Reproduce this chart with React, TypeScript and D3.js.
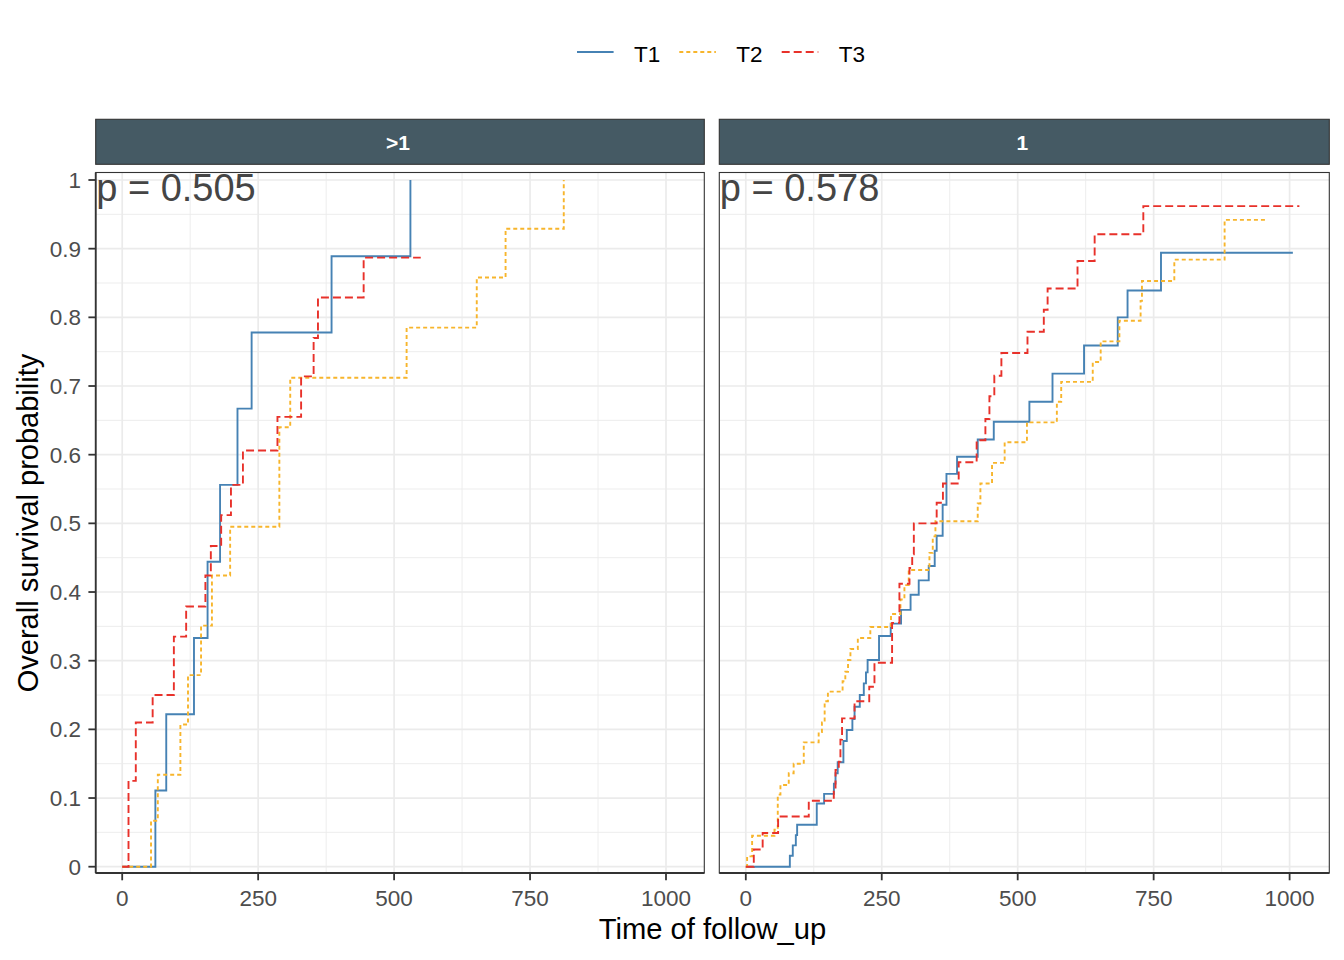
import React, { useEffect, useRef } from 'react'
import * as d3 from 'd3'

// groups
const groups = ['T1', 'T2', 'T3']
const groupColors = ['#4682B4', '#F7B52C', '#E8312A']
const groupDash = [null, '4,3', '8,4']

// facets
const facets = ['>1', '1']
const pValues = ['p = 0.505', 'p = 0.578']

// facet ">1"
const gtT1Time = [61, 81, 132, 157, 180, 212, 238, 385, 530]
const gtT1Prob = [0.111, 0.222, 0.333, 0.444, 0.556, 0.667, 0.778, 0.889, 1.0]
const gtT1End = 530

const gtT2Time = [53, 65.5, 107, 121, 145, 165, 198.5, 289, 309, 523, 652, 705, 812]
const gtT2Prob = [0.067, 0.134, 0.207, 0.279, 0.351, 0.424, 0.495, 0.64, 0.712, 0.785, 0.858, 0.929, 1.0]
const gtT2End = 812

const gtT3Time = [11.6, 25, 56, 95, 117.6, 153, 163, 182, 200, 222, 285.5, 329, 352, 360, 444]
const gtT3Prob = [0.125, 0.21, 0.25, 0.335, 0.379, 0.424, 0.467, 0.512, 0.556, 0.606, 0.655, 0.714, 0.77, 0.829, 0.887]
const gtT3End = 549

// facet "1"
const oneT1Time = [81, 86.4, 92, 94.4, 130.5, 144, 162, 165, 169, 179.5, 185.7, 196, 200, 209.6, 217, 221, 224, 245, 266.5, 285.5, 303, 318, 336.4, 347.4, 351, 362, 369, 388.5, 426.5, 456, 521.5, 564, 622, 684, 702, 763.5]
const oneT1Prob = [0.016, 0.031, 0.046, 0.061, 0.092, 0.106, 0.121, 0.136, 0.152, 0.183, 0.199, 0.215, 0.233, 0.25, 0.267, 0.283, 0.301, 0.336, 0.354, 0.374, 0.396, 0.417, 0.438, 0.46, 0.482, 0.527, 0.572, 0.597, 0.622, 0.648, 0.677, 0.718, 0.759, 0.8, 0.839, 0.894]
const oneT1End = 1006

const oneT2Time = [2.4, 11.6, 52.7, 58.8, 63.7, 79, 88, 106.6, 134, 140, 145, 151, 178, 183, 188, 192.4, 206, 229, 267, 284.4, 291.7, 299.6, 337.7, 343.8, 348.7, 426.5, 431.4, 452.8, 476, 517, 572, 580, 638, 652.6, 687, 726, 728.5, 788, 880.5]
const oneT2Prob = [0.015, 0.045, 0.054, 0.105, 0.119, 0.136, 0.15, 0.181, 0.196, 0.21, 0.241, 0.255, 0.27, 0.284, 0.301, 0.317, 0.333, 0.349, 0.368, 0.389, 0.41, 0.432, 0.457, 0.481, 0.503, 0.529, 0.558, 0.588, 0.618, 0.647, 0.677, 0.706, 0.735, 0.765, 0.795, 0.824, 0.853, 0.884, 0.942]
const oneT2End = 960

const oneT3Time = [14.7, 31, 59.4, 115.8, 161.8, 165, 171, 174, 177, 200, 227, 236.6, 269, 282.5, 301, 306, 309, 351, 362.5, 391.5, 424.5, 440.6, 448, 457, 470, 518, 548, 555, 610, 641.5, 731]
const oneT3Prob = [0.025, 0.049, 0.073, 0.096, 0.112, 0.141, 0.153, 0.185, 0.216, 0.241, 0.262, 0.297, 0.355, 0.412, 0.435, 0.455, 0.5, 0.53, 0.558, 0.589, 0.621, 0.652, 0.685, 0.715, 0.748, 0.779, 0.811, 0.842, 0.882, 0.921, 0.962]
const oneT3End = 1018

const xTicks = [0, 250, 500, 750, 1000]
const xMinor = [125, 375, 625, 875]
const yTicks = [0, 0.1, 0.2, 0.3, 0.4, 0.5, 0.6, 0.7, 0.8, 0.9, 1]
const yMinor = [0.05, 0.15, 0.25, 0.35, 0.45, 0.55, 0.65, 0.75, 0.85, 0.95]

const curves = [
  [
    { time: gtT1Time, prob: gtT1Prob, end: gtT1End },
    { time: gtT2Time, prob: gtT2Prob, end: gtT2End },
    { time: gtT3Time, prob: gtT3Prob, end: gtT3End },
  ],
  [
    { time: oneT1Time, prob: oneT1Prob, end: oneT1End },
    { time: oneT2Time, prob: oneT2Prob, end: oneT2End },
    { time: oneT3Time, prob: oneT3Prob, end: oneT3End },
  ],
]

const FONT = 'Liberation Sans, Arial, sans-serif'

export default function App() {
  const svgRef = useRef<SVGSVGElement>(null)

  useEffect(() => {
    if (!svgRef.current) return
    const svg = d3.select(svgRef.current)
    svg.selectAll('*').remove()

    const width = 1344
    const height = 960
    const panelTop = 172.5
    const panelBottom = 873
    const panels = [
      { x0: 95.7, x1: 704.3 },
      { x0: 719.3, x1: 1329.3 },
    ]

    svg.append('rect').attr('width', width).attr('height', height).attr('fill', 'white')

    const y = d3.scaleLinear().domain([0, 1]).range([866.7, 180])

    panels.forEach((p, fi) => {
      const x = d3
        .scaleLinear()
        .domain([0, 1000])
        .range([p.x0 + 26.5, p.x0 + 26.5 + 543.8])

      const g = svg.append('g')
      const clipId = `clip-${fi}`
      g.append('clipPath')
        .attr('id', clipId)
        .append('rect')
        .attr('x', p.x0)
        .attr('y', panelTop)
        .attr('width', p.x1 - p.x0)
        .attr('height', panelBottom - panelTop)

      // grid
      const grid = g.append('g').attr('clip-path', `url(#${clipId})`)
      grid.selectAll('.ymin')
        .data(yMinor)
        .join('line')
        .attr('x1', p.x0).attr('x2', p.x1)
        .attr('y1', (d) => y(d)).attr('y2', (d) => y(d))
        .attr('stroke', '#EBEBEB').attr('stroke-width', 0.9)
      grid.selectAll('.xmin')
        .data(xMinor)
        .join('line')
        .attr('y1', panelTop).attr('y2', panelBottom)
        .attr('x1', (d) => x(d)).attr('x2', (d) => x(d))
        .attr('stroke', '#EBEBEB').attr('stroke-width', 0.9)
      grid.selectAll('.ymaj')
        .data(yTicks)
        .join('line')
        .attr('x1', p.x0).attr('x2', p.x1)
        .attr('y1', (d) => y(d)).attr('y2', (d) => y(d))
        .attr('stroke', '#EBEBEB').attr('stroke-width', 1.7)
      grid.selectAll('.xmaj')
        .data(xTicks)
        .join('line')
        .attr('y1', panelTop).attr('y2', panelBottom)
        .attr('x1', (d) => x(d)).attr('x2', (d) => x(d))
        .attr('stroke', '#EBEBEB').attr('stroke-width', 1.7)

      // curves
      const line = d3
        .line<[number, number]>()
        .x((d) => x(d[0]))
        .y((d) => y(d[1]))
        .curve(d3.curveStepAfter)

      curves[fi].forEach((c, gi) => {
        const pts: [number, number][] = [[0, 0]]
        c.time.forEach((t, i) => pts.push([t, c.prob[i]]))
        const last = c.prob[c.prob.length - 1]
        if (c.end > c.time[c.time.length - 1]) pts.push([c.end, last])
        grid.append('path')
          .attr('d', line(pts) || '')
          .attr('fill', 'none')
          .attr('stroke', groupColors[gi])
          .attr('stroke-width', 1.9)
          .attr('stroke-dasharray', groupDash[gi])
      })

      // p value
      g.append('text')
        .attr('x', p.x0 + 0.5)
        .attr('y', 200.5)
        .attr('font-family', FONT)
        .attr('font-size', 38)
        .attr('fill', '#454545')
        .text(pValues[fi])

      // border
      g.append('rect')
        .attr('x', p.x0).attr('y', panelTop)
        .attr('width', p.x1 - p.x0).attr('height', panelBottom - panelTop)
        .attr('fill', 'none').attr('stroke', '#333333').attr('stroke-width', 1.1)

      // x axis line + ticks
      g.append('line')
        .attr('x1', p.x0).attr('x2', p.x1)
        .attr('y1', panelBottom).attr('y2', panelBottom)
        .attr('stroke', '#333333').attr('stroke-width', 1.8)
      g.selectAll('.xtick')
        .data(xTicks)
        .join('line')
        .attr('x1', (d) => x(d)).attr('x2', (d) => x(d))
        .attr('y1', panelBottom).attr('y2', panelBottom + 7.3)
        .attr('stroke', '#333333').attr('stroke-width', 1.8)
      g.selectAll('.xlab')
        .data(xTicks)
        .join('text')
        .attr('x', (d) => x(d))
        .attr('y', 905.5)
        .attr('text-anchor', 'middle')
        .attr('font-family', FONT)
        .attr('font-size', 22.5)
        .attr('fill', '#4D4D4D')
        .text((d) => String(d))

      if (fi === 0) {
        g.append('line')
          .attr('x1', p.x0).attr('x2', p.x0)
          .attr('y1', panelTop).attr('y2', panelBottom)
          .attr('stroke', '#333333').attr('stroke-width', 1.8)
        g.selectAll('.ytick')
          .data(yTicks)
          .join('line')
          .attr('x1', p.x0 - 7.3).attr('x2', p.x0)
          .attr('y1', (d) => y(d)).attr('y2', (d) => y(d))
          .attr('stroke', '#333333').attr('stroke-width', 1.8)
        g.selectAll('.ylab')
          .data(yTicks)
          .join('text')
          .attr('x', 81)
          .attr('y', (d) => y(d) + 8)
          .attr('text-anchor', 'end')
          .attr('font-family', FONT)
          .attr('font-size', 22.5)
          .attr('fill', '#4D4D4D')
          .text((d) => d3.format('~g')(d))
      }

      // strip
      g.append('rect')
        .attr('x', p.x0).attr('y', 119.3)
        .attr('width', p.x1 - p.x0).attr('height', 45)
        .attr('fill', '#455A64').attr('stroke', '#333333').attr('stroke-width', 1.1)
      g.append('text')
        .attr('x', (p.x0 + p.x1) / 2 - 2)
        .attr('y', 149.5)
        .attr('text-anchor', 'middle')
        .attr('font-family', FONT)
        .attr('font-weight', 'bold')
        .attr('font-size', 21)
        .attr('fill', 'white')
        .text(facets[fi])
    })

    // axis titles
    svg.append('text')
      .attr('x', 712.5)
      .attr('y', 939)
      .attr('text-anchor', 'middle')
      .attr('font-family', FONT)
      .attr('font-size', 29.2)
      .attr('fill', 'black')
      .text('Time of follow_up')

    svg.append('text')
      .attr('transform', 'translate(37.5,523) rotate(-90)')
      .attr('text-anchor', 'middle')
      .attr('font-family', FONT)
      .attr('font-size', 29)
      .attr('fill', 'black')
      .text('Overall survival probability')

    // legend
    const legendX = [577, 679.3, 781.7]
    const legend = svg.append('g')
    groups.forEach((name, i) => {
      legend.append('line')
        .attr('x1', legendX[i]).attr('x2', legendX[i] + 36.6)
        .attr('y1', 52).attr('y2', 52)
        .attr('stroke', groupColors[i])
        .attr('stroke-width', 1.9)
        .attr('stroke-dasharray', groupDash[i])
      legend.append('text')
        .attr('x', legendX[i] + 57)
        .attr('y', 61.5)
        .attr('font-family', FONT)
        .attr('font-size', 22.5)
        .attr('fill', 'black')
        .text(name)
    })
  }, [])

  return (
    <svg
      ref={svgRef}
      width={1344}
      height={960}
      style={{ position: 'absolute', left: 0, top: 0 }}
    />
  )
}
